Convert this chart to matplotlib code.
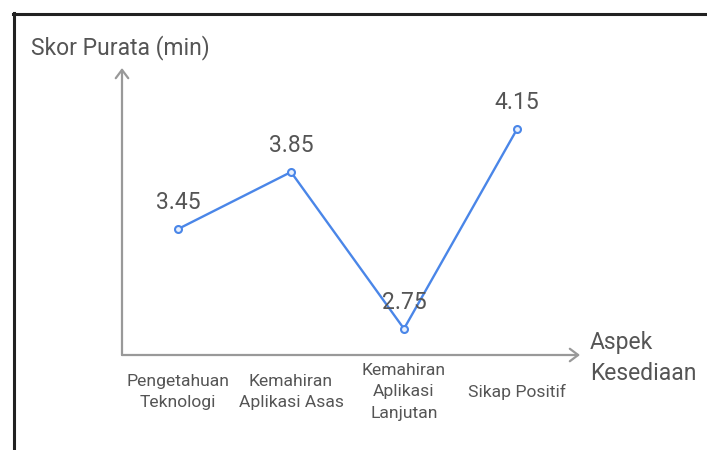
import matplotlib.pyplot as plt
from matplotlib.lines import Line2D

plt.rcParams['font.family'] = ['Roboto', 'DejaVu Sans']

# Data
aspek = ['Pengetahuan\nTeknologi', 'Kemahiran\nAplikasi Asas',
         'Kemahiran\nAplikasi\nLanjutan', 'Sikap Positif']
skor = [3.45, 3.85, 2.75, 4.15]

W, H = 707, 450
fig = plt.figure(figsize=(W / 100, H / 100), dpi=100)

# axes in pixel terms: left 122, right 580, top 68, bottom 355
ax = fig.add_axes([122 / W, (H - 355) / H, (580 - 122) / W, (355 - 68) / H])
ax.set_xlim(-0.496, 3.558)
ax.set_ylim(2.566, 4.58)
for s in ax.spines.values():
    s.set_visible(False)
ax.set_yticks([])
ax.set_xticks(range(len(aspek)))
ax.set_xticklabels(aspek, fontsize=12.6, color='#555555', va='center',
                   multialignment='center', linespacing=1.52)
ax.tick_params(axis='x', length=0, pad=26.5)
ax.patch.set_alpha(0)

x = list(range(len(skor)))
ax.plot(x, skor, color='#4a86e8', lw=1.7, marker='o', ms=5,
        mfc='#e8f0fd', mec='#4a86e8', mew=1.5, zorder=3)
for xi, v in zip(x, skor):
    ax.annotate(f'{v:.2f}', (xi, v), xytext=(0, 14.5), textcoords='offset points',
                ha='center', va='baseline', fontsize=16.5, color='#555555', zorder=4)

# axis arrows
arrow = dict(arrowstyle='->,head_length=0.6,head_width=0.45', color='#999999', lw=1.6,
             shrinkA=0, shrinkB=0)
ax.annotate('', xy=(1, 0), xytext=(0, 0), xycoords='axes fraction', arrowprops=arrow)
ax.annotate('', xy=(0, 1), xytext=(0, 0), xycoords='axes fraction', arrowprops=arrow)

fig.text(31 / W, 1 - 54 / H, 'Skor Purata (min)', fontsize=16.5, color='#555555',
         ha='left', va='baseline')
fig.text(590 / W, 1 - 380 / H, 'Aspek\nKesediaan', fontsize=16.5, color='#555555',
         ha='left', va='baseline', linespacing=1.42)

# frame lines (top and left)
fig.add_artist(Line2D([13 / W, 1], [1 - 14 / H] * 2, color='#222222', lw=2.2,
                      transform=fig.transFigure))
fig.add_artist(Line2D([14 / W] * 2, [1 - 13 / H, 0], color='#222222', lw=2.2,
                      transform=fig.transFigure))

fig.savefig('out.png', dpi=100)
